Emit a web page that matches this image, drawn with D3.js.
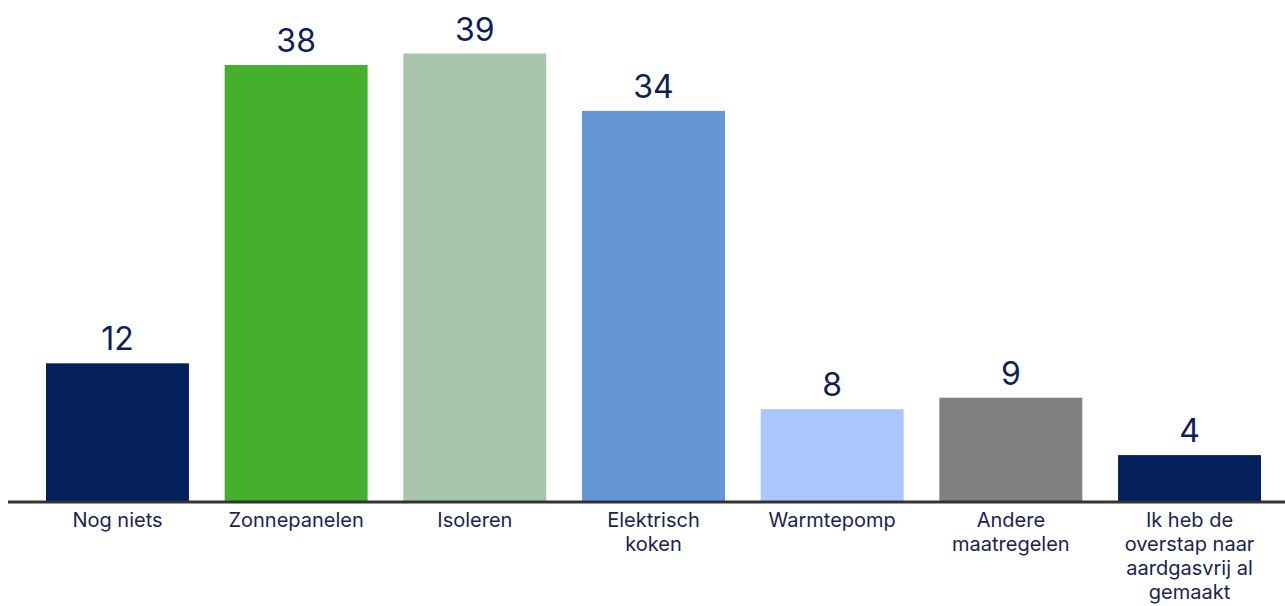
<!DOCTYPE html>
<html><head><meta charset="utf-8">
<script src="https://cdn.jsdelivr.net/npm/d3@7"></script>
<style>body{margin:0;background:#fff}svg{display:block}</style>
</head><body>
<script>
const categories = ["Nog niets","Zonnepanelen","Isoleren","Elektrisch koken","Warmtepomp","Andere maatregelen","Ik heb de overstap naar aardgasvrij al gemaakt"];
const labelLines = [["Nog niets"],["Zonnepanelen"],["Isoleren"],["Elektrisch","koken"],["Warmtepomp"],["Andere","maatregelen"],["Ik heb de","overstap naar","aardgasvrij al","gemaakt"]];
const values = [12,38,39,34,8,9,4];
const colors = ["#031f5c","#45b02c","#a9c6aa","#6596d6","#aac6fa","#808080","#031f5c"];

const W=1285,H=606;
const svg=d3.select("body").append("svg").attr("width",W).attr("height",H);
const x=d3.scaleBand().domain(categories).range([46,1261]).paddingInner(0.2).paddingOuter(0);
const y=d3.scaleLinear().domain([0,38]).range([501,65]);

svg.selectAll("rect.bar").data(values).join("rect")
  .attr("x",(d,i)=>x(categories[i])).attr("width",x.bandwidth())
  .attr("y",d=>y(d)).attr("height",d=>y(0)-y(d))
  .attr("fill",(d,i)=>colors[i]);

svg.append("line").attr("x1",8).attr("x2",W).attr("y1",y(0)+1).attr("y2",y(0)+1)
  .attr("stroke","#333").attr("stroke-width",3);

svg.selectAll("text.val").data(values).join("text")
  .attr("x",(d,i)=>x(categories[i])+x.bandwidth()/2).attr("y",d=>y(d)-13)
  .attr("text-anchor","middle").attr("font-family","Inter, sans-serif").attr("font-size",32)
  .attr("fill","#0f1f55").text(d=>d);

const g=svg.selectAll("text.cat").data(labelLines).join("text")
  .attr("x",(d,i)=>x(categories[i])+x.bandwidth()/2).attr("y",527)
  .attr("text-anchor","middle").attr("font-family","Inter, sans-serif").attr("font-size",20)
  .attr("fill","#1a2450");
g.selectAll("tspan").data(d=>d).join("tspan")
  .attr("x",function(){return this.parentNode.getAttribute("x");})
  .attr("dy",(d,i)=>i?24:0).text(d=>d);
</script>
</body></html>
